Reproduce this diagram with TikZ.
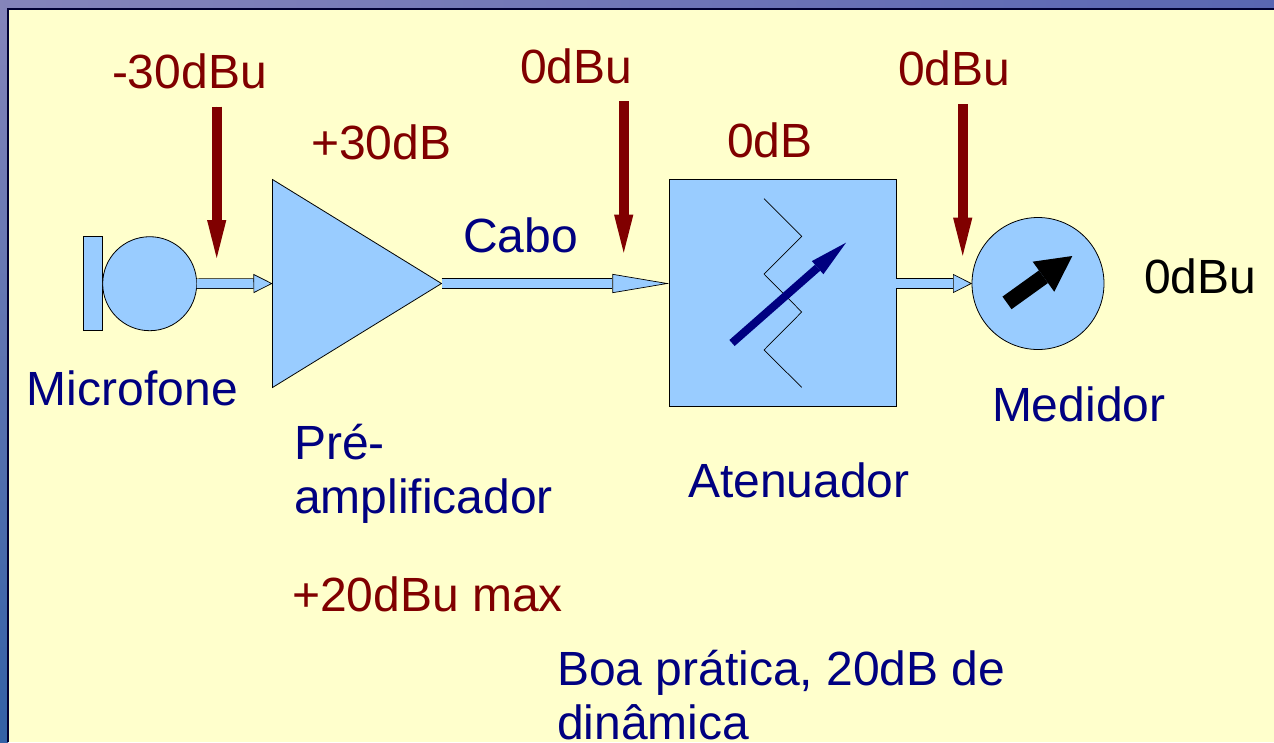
\documentclass[tikz,border=0pt]{standalone}
\usepackage{fontspec}
\setmainfont{Liberation Sans}
\usetikzlibrary{arrows.meta,shapes.geometric}
\newlength{\du}
\setlength{\du}{1pt}
\definecolor{fundo}{rgb}{1.000000, 1.000000, 0.800000}
\definecolor{bloco}{rgb}{0.600000, 0.800000, 1.000000}
\definecolor{nivel}{rgb}{0.500000, 0.000000, 0.000000}
\definecolor{nome}{rgb}{0.000000, 0.000000, 0.500000}
\definecolor{ceu}{rgb}{0.520000, 0.520000, 0.730000}
\definecolor{faixa}{rgb}{0.350000, 0.400000, 0.700000}
\definecolor{mar}{rgb}{0.460000, 0.600000, 0.640000}
\definecolor{fundomar}{rgb}{0.200000, 0.380000, 0.650000}
\tikzset{
  bloco/.style={draw=black,fill=bloco,line width=0.8\du,inner sep=0pt,outer sep=0pt},
  sinal/.style={draw=black,line width=0.7\du,double=bloco,double distance=9\du},
  medida/.style={draw=nivel,fill=nivel,line width=10\du},
  rotulo/.style={anchor=base west,inner sep=0pt,outer sep=0pt,align=left,font=\fontsize{48\du}{54\du}\selectfont},
}
\begin{document}
\begin{tikzpicture}
\pgftransformxscale{1.000000}
\pgftransformyscale{-1.000000}
\useasboundingbox (0\du,0\du) rectangle (1274\du,742\du);
\shade[top color=ceu,middle color=mar,bottom color=fundomar] (0\du,0\du) rectangle (8\du,742\du);
\shade[left color=ceu,right color=faixa] (0\du,0\du) rectangle (1274\du,9\du);
\fill[fundo] (8\du,9\du) rectangle (1274\du,742\du);
\draw[line width=1.5\du,black!80!blue] (8\du,742\du)--(8\du,9\du)--(1274\du,9\du);
% microfone
\node[bloco,rectangle,minimum width=19.4\du,minimum height=94\du] (placa) at (93\du,283.7\du) {};
\node[bloco,circle,minimum size=94\du] (microfone) at (149.7\du,283.7\du) {};
% pre-amplificador
\node[bloco,isosceles triangle,isosceles triangle stretches,minimum width=208\du,minimum height=169\du,anchor=lower side] (preamp) at (272.5\du,283.5\du) {};
% atenuador
\node[bloco,rectangle,minimum width=227\du,minimum height=226.7\du] (atenuador) at (782.8\du,292.7\du) {};
\draw[line width=0.7\du] (764\du,198.7\du)--(801.7\du,236.3\du)--(764\du,274\du)--(801.7\du,312\du)--(764\du,350\du)--(801.7\du,387.3\du);
\coordinate (cursorA) at (732\du,343\du);
\coordinate (cursorB) at (846\du,242.7\du);
\draw[-{Triangle[length=37.8pt,width=17.5pt,line width=0pt]},line width=8\du,draw=nome,fill=nome] (cursorA)--(cursorB);
% medidor
\node[bloco,circle,minimum size=132\du] (medidor) at (1038\du,283.5\du) {};
\coordinate (ponteiroA) at (1007\du,302.9\du);
\coordinate (ponteiroB) at (1072.3\du,256\du);
\draw[-{Triangle[length=35.5pt,width=37pt,line width=0pt]},line width=15.5\du,draw=black,fill=black] (ponteiroA)--(ponteiroB);
% sinal
\draw[sinal,-{Triangle[length=19pt,width=19pt,fill=bloco]}] (microfone.east)--(preamp.lower side);
\draw[sinal,-{Triangle[length=57pt,width=19pt,fill=bloco]}] (preamp.apex)--(atenuador.west |- preamp.apex);
\draw[sinal,-{Triangle[length=19pt,width=19pt,fill=bloco]}] (atenuador.east |- medidor.west)--(medidor.west);
% medidas
\coordinate (medidaA) at (216.7\du,106.7\du);
\coordinate (pontaA) at (216.7\du,258\du);
\coordinate (medidaB) at (623.7\du,101\du);
\coordinate (pontaB) at (623.7\du,252.7\du);
\coordinate (medidaC) at (962.7\du,104\du);
\coordinate (pontaC) at (962.7\du,255.7\du);
\draw[medida,-{Triangle[length=38pt,width=19.3pt,line width=0pt]}] (medidaA)--(pontaA);
\draw[medida,-{Triangle[length=38pt,width=19.3pt,line width=0pt]}] (medidaB)--(pontaB);
\draw[medida,-{Triangle[length=38pt,width=19.3pt,line width=0pt]}] (medidaC)--(pontaC);
% textos
\node[rotulo,text=nivel] (entrada) at (112\du,88\du) {-30dBu};
\node[rotulo,text=nivel] (saidaPre) at (520\du,83\du) {0dBu};
\node[rotulo,text=nivel] (saidaAten) at (898\du,85\du) {0dBu};
\node[rotulo,text=nivel] (ganhoPre) at (311\du,159\du) {+30dB};
\node[rotulo,text=nivel] (ganhoAten) at (727\du,157\du) {0dB};
\node[rotulo,text=nome] (cabo) at (463\du,252\du) {Cabo};
\node[rotulo] (leitura) at (1144\du,293\du) {0dBu};
\node[rotulo,text=nome] (nomeMic) at (27\du,405\du) {Microfone};
\node[rotulo,text=nome] (nomePre) at (294\du,513\du) {Pré-\\amplificador};
\node[rotulo,text=nivel] (maximo) at (292\du,611\du) {+20dBu max};
\node[rotulo,text=nome] (nomeAten) at (688\du,497\du) {Atenuador};
\node[rotulo,text=nome] (nomeMed) at (992\du,421\du) {Medidor};
\node[rotulo,text=nome] (pratica) at (557\du,739.5\du) {Boa prática, 20dB de\\dinâmica};
\end{tikzpicture}
\end{document}
